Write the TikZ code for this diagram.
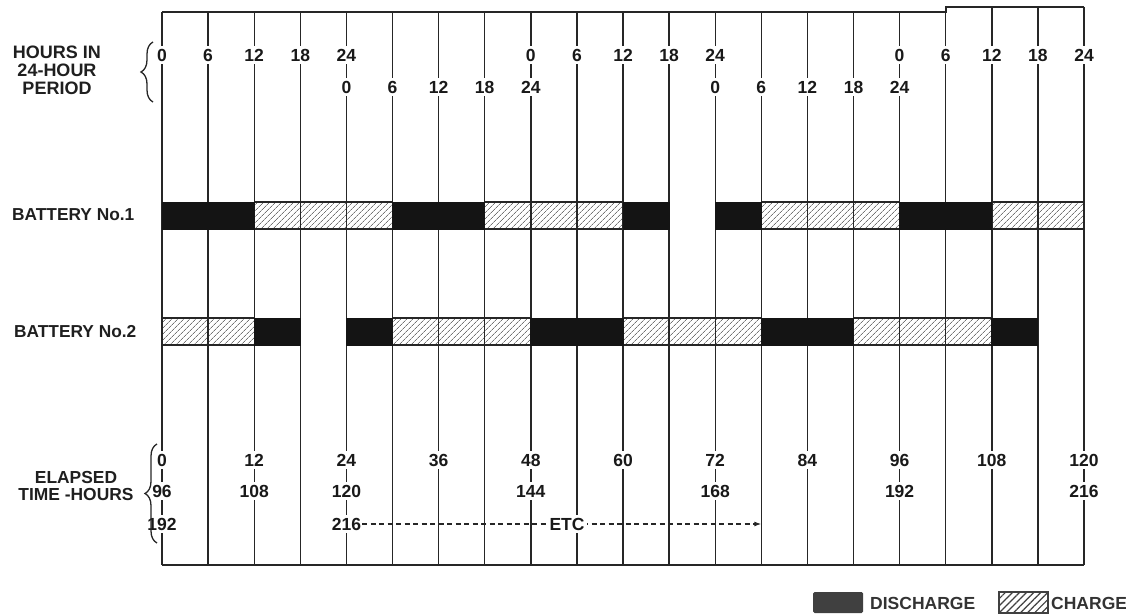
\documentclass[tikz,border=0pt]{standalone}
\usepackage{fontspec}
\setmainfont{Liberation Sans}
\usetikzlibrary{patterns.meta,arrows.meta,decorations.pathreplacing}
\newcommand{\gx}[1]{162+46.1*(#1)}
\tikzset{
  gridline/.style={line width=1.4pt, draw=black!85},
  frameline/.style={line width=2.2pt, draw=black!85},
  disch/.style={fill=black!92, draw=black!92, line width=1pt},
  chgfill/.style={fill=black!7, pattern={Lines[angle=45,distance=4pt,line width=0.7pt]}, pattern color=black!55},
  chgedge/.style={draw=black!85, line width=1.2pt},
  lab/.style={fill=white, inner xsep=1pt, inner ysep=3pt, text=black!90, font=\fontsize{17.5}{19}\selectfont\bfseries},
  side/.style={text=black!88, font=\fontsize{18}{18}\selectfont\bfseries, align=center, inner sep=0pt},
  legtext/.style={text=black!80, font=\fontsize{17.5}{18}\selectfont\bfseries, inner sep=0pt, anchor=west},
  bracestyle/.style={decorate, decoration={brace, amplitude=12pt}, line width=1.3pt, draw=black!85},
}
\begin{document}
\begin{tikzpicture}[x=1pt,y=-1pt]
\useasboundingbox (0,0) rectangle (1126,615);
% charge backgrounds (hatched)
\foreach \a/\b/\y in {2/5/202,7/10/202,13/16/202,18/20/202,0/2/318,5/8/318,10/13/318,15/18/318}{
  \fill[chgfill] ({\gx{\a}},\y) rectangle ({\gx{\b}},\y+27);
}
% vertical grid lines
\foreach \i in {0,...,16}{
  \coordinate (t\i) at ({\gx{\i}},12);
  \coordinate (b\i) at ({\gx{\i}},565);
  \draw[gridline] (t\i) -- (b\i);
}
\foreach \i in {17,...,20}{
  \coordinate (t\i) at ({\gx{\i}},7);
  \coordinate (b\i) at ({\gx{\i}},565);
  \draw[gridline] (t\i) -- (b\i);
}
% frame
\coordinate (s17) at ({\gx{17}},12);
\draw[frameline] (t0) -- (s17) -- (t17) -- (t20);
\draw[frameline] (b0) -- (b20);
\draw[gridline] (t20) -- (b20);
% charge outlines
\foreach \a/\b/\y in {2/5/202,7/10/202,13/16/202,18/20/202,0/2/318,5/8/318,10/13/318,15/18/318}{
  \draw[chgedge] ({\gx{\a}},\y) rectangle ({\gx{\b}},\y+27);
}
% discharge bars
\foreach \a/\b/\y in {0/2/202,5/7/202,10/11/202,12/13/202,16/18/202,2/3/318,4/5/318,8/10/318,13/15/318,18/19/318}{
  \filldraw[disch] ({\gx{\a}},\y) rectangle ({\gx{\b}},\y+27);
}
% top hour labels
\foreach \v/\i in {0/0,6/1,12/2,18/3,24/4,0/8,6/9,12/10,18/11,24/12,0/16,6/17,12/18,18/19,24/20}{
  \node[lab] (ha\i) at ({\gx{\i}},55) {\v};
}
\foreach \v/\i in {0/4,6/5,12/6,18/7,24/8,0/12,6/13,12/14,18/15,24/16}{
  \node[lab] (hb\i) at ({\gx{\i}},87) {\v};
}
% elapsed labels
\foreach \v/\i in {0/0,12/2,24/4,36/6,48/8,60/10,72/12,84/14,96/16,108/18,120/20}{
  \node[lab] (ea\i) at ({\gx{\i}},460) {\v};
}
\foreach \v/\i in {96/0,108/2,120/4,144/8,168/12,192/16,216/20}{
  \node[lab] (eb\i) at ({\gx{\i}},491) {\v};
}
\node[lab] (ec0) at ({\gx{0}},524) {192};
\node[lab] (ec4) at ({\gx{4}},524) {216};
% ETC arrow
\coordinate (etcend) at ({\gx{13}},524);
\draw[line width=1.1pt, black!85, dash pattern=on 5pt off 3.5pt, -{Latex[length=7pt,width=5pt]}] (ec4.east) -- (etcend);
\node[lab, inner xsep=2pt] (etc) at (567,524) {ETC};
% side labels
\node[side] (hours) at (57,70) {HOURS IN\\24-HOUR\\PERIOD};
\draw[bracestyle] (153,102) -- (153,42);
\node[side, anchor=west, font=\fontsize{17.3}{18}\selectfont\bfseries] (bat1) at (12,215) {BATTERY No.1};
\node[side, anchor=west, font=\fontsize{17.3}{18}\selectfont\bfseries] (bat2) at (14,332) {BATTERY No.2};
\node[side, font=\fontsize{17.4}{16.5}\selectfont\bfseries] (elapsed) at (76,486) {ELAPSED\\TIME -HOURS};
\draw[bracestyle] (157,543) -- (157,444);
% legend
\fill[black!75, rounded corners=1.5pt] (813,592) rectangle (863,613);
\node[legtext] (ldis) at (870,603) {DISCHARGE};
\fill[white] (999,592) rectangle (1048,613);
\fill[pattern={Lines[angle=45,distance=5pt,line width=1.2pt]}, pattern color=black!75] (999,592) rectangle (1048,613);
\draw[black!75, line width=1.6pt] (999,592) rectangle (1048,613);
\node[legtext] (lchg) at (1051,603) {CHARGE};
\end{tikzpicture}
\end{document}
